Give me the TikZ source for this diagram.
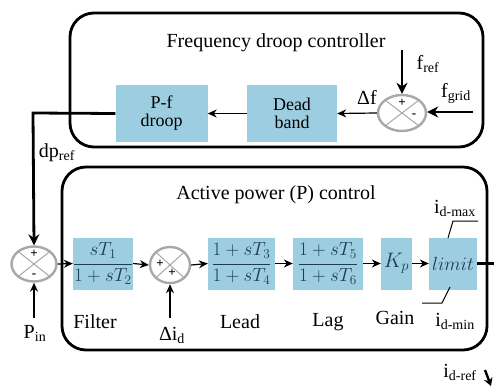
\RequirePackage{fix-cm}
\documentclass[tikz,border=0pt]{standalone}
\usepackage{fontspec}
\setmainfont{Liberation Serif}
\usetikzlibrary{arrows.meta,shapes.geometric}
\definecolor{boxblue}{HTML}{9DCDE0}
\definecolor{sumgray}{HTML}{A8A8A8}
\definecolor{mathblue}{HTML}{1F3B57}
\begin{document}
\begin{tikzpicture}[x=1pt,y=-1pt,
  blk/.style={fill=boxblue, minimum height=52pt, inner sep=0pt, text=mathblue, font=\fontsize{19}{20}\selectfont},
  tblk/.style={fill=boxblue, minimum height=57pt, minimum width=92pt, inner sep=0pt, align=center, font=\fontsize{18}{20}\selectfont},
  sumj/.style={ellipse, draw=sumgray, line width=2.4pt, fill=white, inner sep=0pt},
  lbl/.style={font=\fontsize{20}{22}\selectfont, inner sep=0pt},
  sgn/.style={font=\fontsize{13}{13}\selectfont\bfseries, inner sep=0pt},
  frame/.style={line width=2.8pt, rounded corners=24pt},
  thin/.style={line width=1.2pt, -{Stealth[length=9pt,width=8pt]}},
  thk/.style={line width=2.8pt, -{Stealth[length=11pt,width=11pt]}},
  lim/.style={line width=1pt}
]
\useasboundingbox (0,0) rectangle (494,385);

% frames
\draw[frame] (70,13) rectangle (483,147);
\draw[frame] (62,167) rectangle (487,350);

% titles
\node[lbl] (t1) at (276,43) {Frequency droop controller};
\node[lbl] (t2) at (276,195) {Active power (P) control};

% top row
\node[tblk] (pf) at (161.5,113.5) {P-f\\[-2pt]droop};
\node[tblk, minimum width=90pt] (dead) at (292,113.5) {Dead\\[-2pt]band};
\node[sumj, minimum width=48pt, minimum height=36pt] (sT) at (402,113) {};
\draw[sumgray, line width=1pt] (sT.north west) -- (sT.south east) (sT.north east) -- (sT.south west);
\node[sgn] (sTp) at (402,103) {+};
\node[sgn] (sTm) at (414,116) {-};

\coordinate (fr0) at (402,50);
\coordinate (fg0) at (473,112);
\draw[thk] (fr0) -- (sT.north);
\draw[thk] (fg0) -- (sT.east |- fg0);
\node[lbl] (fref) at (428,64) {f\textsubscript{ref}};
\node[lbl] (fgrid) at (456,93) {f\textsubscript{grid}};
\node[lbl] (df) at (367,97) {Δf};

\draw[thin] (sT.west) -- (dead.east);
\draw[thin] (dead.west) -- (pf.east);

% bottom row
\node[sumj, minimum width=45pt, minimum height=35pt] (sA) at (34,264) {};
\draw[sumgray, line width=1pt] (sA.north west) -- (sA.south east) (sA.north east) -- (sA.south west);
\node[sgn] (sAp) at (34,254) {+};
\node[sgn] (sAm) at (34,276) {-};

\node[blk, minimum width=60pt] (filt) at (103,263.5) {$\displaystyle\frac{sT_1}{1+sT_2}$};

\node[sumj, minimum width=40pt, minimum height=36pt] (sB) at (170,265) {};
\draw[sumgray, line width=1pt] (sB.north west) -- (sB.south east) (sB.north east) -- (sB.south west);
\node[sgn] (sBp1) at (160,264) {+};
\node[sgn] (sBp2) at (172,273) {+};

\node[blk, minimum width=67pt] (lead) at (241.5,263.5) {$\displaystyle\frac{1+sT_3}{1+sT_4}$};
\node[blk, minimum width=70pt] (lag) at (328,263.5) {$\displaystyle\frac{1+sT_5}{1+sT_6}$};
\node[blk, minimum width=31pt, font=\fontsize{21}{22}\selectfont] (kp) at (396.5,263.5) {$K_p$};
\node[blk, minimum width=48pt, font=\fontsize{19}{22}\selectfont] (lim) at (453,263.5) {$limit$};

% dp_ref path
\coordinate (dpc) at (33,113);
\draw[thk] (pf.west) -- (dpc) -- (sA.north);
\node[lbl] (dpref) at (57,153) {dp\textsubscript{ref}};

\draw[thin] (sA.east) -- (filt.west);
\draw[thin] (filt.east) -- (sB.west);
\draw[thin] (sB.east) -- (lead.west);
\draw[thin] (lead.east) -- (lag.west);
\draw[thin] (lag.east) -- (kp.west);
\draw[thin] (kp.east) -- (lim.west);

\coordinate (pin0) at (34,318);
\coordinate (di0) at (170,318);
\draw[thin, line width=1.4pt] (pin0) -- (sA.south);
\draw[thin, line width=1.4pt] (di0) -- (sB.south);
\node[lbl] (pin) at (35,333) {P\textsubscript{in}};
\node[lbl] (did) at (172,335) {Δi\textsubscript{d}};

% limit marks
\coordinate (u1) at (448,238);
\coordinate (u2) at (453,221);
\coordinate (u3) at (478,221);
\draw[lim] (u1) -- (u2) -- (u3);
\coordinate (l1) at (422,303);
\coordinate (l2) at (442,303);
\coordinate (l3) at (450,287);
\draw[lim] (l1) -- (l2) -- (l3);

% output
\coordinate (out) at (494,263.5);
\draw[line width=2.8pt] (lim.east) -- (out);
\coordinate (oa) at (485,370);
\coordinate (ob) at (491,386);
\draw[line width=2.4pt, -{Stealth[length=8pt,width=9pt]}] (oa) -- (ob);

% labels under
\node[lbl] (lf) at (95,322) {Filter};
\node[lbl] (ll) at (240,322) {Lead};
\node[lbl] (lg) at (328,322) {Lag};
\node[lbl] (lgn) at (395,318) {Gain};
\node[lbl] (imin) at (455,321) {i\textsubscript{d-min}};
\node[lbl] (imax) at (455,208) {i\textsubscript{d-max}};
\node[lbl] (iref) at (460,372) {i\textsubscript{d-ref}};
\end{tikzpicture}
\end{document}
